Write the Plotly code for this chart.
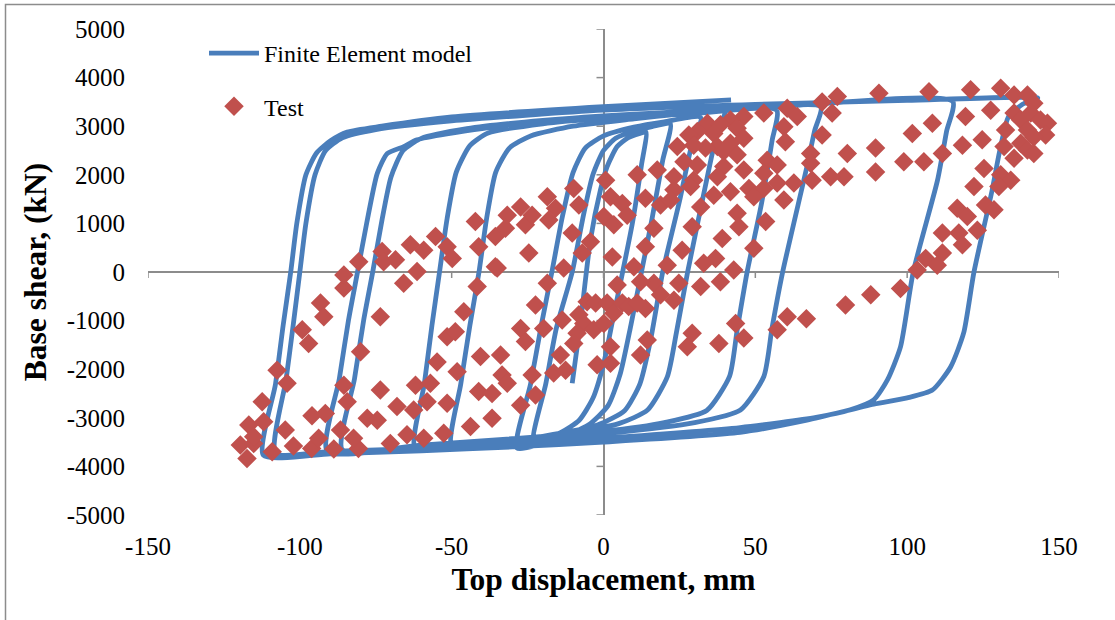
import plotly.graph_objects as go

# ---------------------------------------------------------------------------
# Finite element model: base shear (kN) vs. top displacement (mm),
# listed in analysis order (reloading / unloading branches of each cycle).
# ---------------------------------------------------------------------------
fe_disp = [
    # reload to +14
    -10.3, -7.6, -4.3, -1.0, 1.2, 4.5, 8.0, 12.0, 14.0,
    # unload to -23
    12.5, 9.5, 6.3, 3.0, 0.0, -3.5, -8.0, -14.0, -23.0,
    # reload to +22
    -19.0, -15.5, -10.3, -6.5, -3.5, 0.0, 4.0, 10.0, 16.0, 22.0,
    # unload to -28.5
    19.5, 16.0, 12.5, 9.0, 5.5, 1.5, -5.0, -15.0, -28.5,
    # reload to +32
    -24.0, -20.5, -17.0, -13.5, -10.0, -6.0, 0.0, 10.0, 20.0, 32.0,
    # unload to -50
    29.0, 25.0, 19.5, 15.5, 12.0, 7.0, -2.0, -20.0, -35.0, -50.0,
    # reload to +40
    -47.0, -44.0, -41.0, -38.5, -35.5, -31.0, -24.0, -10.0, 10.0, 25.0, 40.0,
    # unload to -62
    37.5, 35.0, 27.7, 24.0, 21.0, 14.5, 5.0, -15.0, -40.0, -62.0,
    # reload to +57
    -59.0, -56.5, -54.0, -51.5, -48.5, -44.0, -38.0, -20.0, 0.0, 30.0, 57.0,
    # unload to -86
    55.5, 52.0, 47.3, 44.0, 41.5, 34.0, 20.0, 0.0, -30.0, -60.0, -86.0,
    # reload to +71.5
    -82.0, -79.0, -76.0, -73.0, -70.0, -66.0, -60.0, -45.0, -20.0, 10.0, 40.0, 71.5,
    # unload to -91
    69.5, 67.0, 59.0, 55.5, 52.8, 45.1, 30.0, 0.0, -30.0, -60.0, -91.0,
    # reload to +115
    -87.0, -84.0, -81.0, -78.0, -74.5, -71.2, -65.8, -61.4, -40.0, 0.0, 57.0, 115.0,
    # unload to -108
    113.0, 110.0, 102.0, 97.8, 93.5, 89.0, 81.0, 70.0, 45.0, 0.0, -30.0, -60.0,
    -90.0, -108.0,
    # reload to +143
    -104.5, -102.0, -100.0, -98.0, -95.0, -91.5, -86.0, -75.0, -50.0, 0.0, 50.0,
    100.0, 143.0,
    # unload to -112
    138.0, 133.4, 130.5, 128.0, 122.0, 118.6, 114.3, 108.3, 100.0, 89.0, 67.0,
    45.0, 0.0, -30.0, -60.0, -90.0, -112.0,
    # final reload
    -108.0, -105.5, -103.0, -101.0, -98.0, -94.5, -89.9, -84.4, -73.0, -50.0,
    0.0, 42.0,
]
fe_shear = [
    -2290, -1050, 660, 1690, 2170, 2580, 2760, 2850, 2880,
    2200, 1000, 0, -1000, -1900, -2600, -3050, -3300, -3500,
    -2300, -1150, 0, 1200, 2000, 2500, 2750, 2900, 2990, 3050,
    2300, 1100, 0, -1100, -2100, -2750, -3150, -3420, -3620,
    -2300, -1100, 0, 1150, 2050, 2550, 2800, 2980, 3090, 3180,
    2600, 1450, 0, -1400, -2300, -2850, -3150, -3380, -3500, -3600,
    -2300, -1100, 0, 1100, 2050, 2550, 2800, 3000, 3150, 3250, 3330,
    2900, 2200, 0, -1250, -2160, -2840, -3120, -3340, -3520, -3640,
    -2300, -1100, 0, 1100, 2050, 2600, 2860, 3050, 3160, 3260, 3330,
    2700, 1400, 0, -1200, -2150, -2850, -3100, -3280, -3430, -3560, -3660,
    -2200, -1000, 0, 1050, 1950, 2500, 2750, 2950, 3120, 3250, 3330, 3400,
    2900, 2170, 0, -1150, -2150, -2840, -3100, -3330, -3480, -3590, -3690,
    -2200, -1000, 0, 1000, 2030, 2440, 2580, 2720, 2950, 3200, 3400, 3510,
    2900, 1890, 0, -1540, -2220, -2630, -2840, -2990, -3200, -3420, -3540, -3630,
    -3690, -3730,
    -2200, -1000, 0, 1000, 2000, 2500, 2760, 2930, 3110, 3330, 3450,
    3530, 3580,
    3450, 3200, 2500, 1690, 0, -1255, -1955, -2430, -2590, -2720, -3050,
    -3300, -3500, -3600, -3680, -3740, -3770,
    -2300, -1100, 0, 1000, 2000, 2450, 2700, 2880, 3000, 3190,
    3400, 3540,
]

# ---------------------------------------------------------------------------
# Test measurements
# ---------------------------------------------------------------------------
test_disp = [
    # negative side
    -112.4, -116.8, -111.9, -119.6, -115.2, -117.4, -115.2, -109.1, -102.1, -96.1,
    -88.8, -80.7, -70.2, -93.8, -82.3, -86.6, -104.8, -96.0, -91.6, -77.8,
    -74.5, -68.0, -84.4, -85.5, -73.5, -107.5, -104.2, -99.2, -97.1, -93.2,
    -92.1, -80.0, -73.5, -85.5, -85.5, -80.6, -72.9, -72.4, -68.5, -63.6,
    -59.2, -61.4, -55.3, -65.8, -61.9, -57.0, -58.1, -54.8, -62.5, -59.2,
    -64.7, -51.5, -51.5, -52.6, -51.5,
    # central region
    -49.8, -42.2, -41.1, -35.6, -35.6, -31.7, -32.3, -27.3, -25.7, -23.5,
    -24.6, -18.5, -15.8, -18.0, -9.8, -8.1, -10.3, -4.3, -7.0, 0.7,
    2.3, 0.1, 6.2, 7.8, 3.4, 2.9, 10.0, -13.1, -18.5, -41.6,
    -35.0, -46.0, -48.8, -22.4, -27.3, -25.7, -19.7, -13.6, -8.1, -5.4,
    -2.6, 1.2, 3.4, 6.2, 8.3, -6.5, -3.2, 0.1, -8.7, -9.8,
    2.3, -14.2, -40.5, -33.9, -33.4, -31.7, -48.2, -41.1, -36.7, -43.8,
    -36.7, -27.3, -23.5, -22.4, -16.4, -12.5, -2.1, 2.3, 4.5,
    # positive side, moderate drift
    52.8, 60.5, 63.8, 59.4, 59.9, 46.2, 41.8, 34.2, 38.5, 30.9,
    28.1, 36.3, 44.0, 46.2, 41.8, 37.5, 33.6, 29.7, 24.3, 26.5,
    30.9, 39.6, 44.0, 53.9, 57.2, 52.8, 39.6, 46.2, 37.5, 11.1,
    17.7, 23.2, 29.7, 23.2, 28.7, 36.3, 41.8, 47.9, 52.8, 57.2,
    62.7, 59.4, 49.5, 13.8, 18.8, 22.1, 32.0, 29.2, 16.6, 44.0,
    44.6, 53.4, 39.1, 25.9, 13.8, 36.9, 33.0, 21.0, 49.5, 42.9,
    38.5, 32.0, 24.8, 23.2, 16.6, 12.2, 18.8, 13.8, 11.1, 14.4,
    12.2, 29.2, 27.6, 38.0, 43.5, 46.2, 57.2, 60.5, 66.8,
    # positive side, large drift
    72.0, 77.0, 75.3, 90.7, 107.2, 120.9, 130.8, 135.2, 139.6, 141.7,
    127.5, 119.2, 108.3, 101.7, 135.2, 137.4, 140.7, 143.9, 146.2, 132.4,
    139.6, 145.6, 141.7, 137.4, 131.9, 139.6, 141.7, 135.2, 124.7, 118.2,
    111.6, 105.5, 98.9, 89.6, 89.6, 80.3, 79.2, 74.8, 68.2, 68.2,
    68.7, 72.0, 125.3, 122.0, 130.8, 134.1, 130.2, 125.8, 128.6, 116.5,
    119.8, 123.1, 117.0, 111.6, 118.2, 111.6, 106.1, 109.9, 103.3, 97.8,
    88.0, 79.7,
]
test_shear = [
    -2670, -3150, -3080, -3560, -3530, -3840, -3390, -3700, -3580, -3630,
    -3640, -3630, -3530, -3420, -3420, -3250, -3250, -2960, -2910, -3010,
    -3050, -2770, -2670, -2330, -2430, -2020, -2290, -1190, -1470, -640,
    -920, -1640, -920, -330, -60, 210, 420, 210, 250, 560,
    450, 10, 730, -230, -2330, -2290, -2670, -1850, -2840, -3420,
    -3350, -1330, -2700, -3320, 520,
    280, 1040, 520, 110, 730, 1170, 900, 1340, 970, 1170,
    390, 1550, 1310, 1070, 1720, 1380, 800, 620, 390, 1890,
    1550, 1140, 1410, 1170, 970, 310, 110, 80, -230, -300,
    80, -820, -1230, -680, -1160, -1430, -1160, -990, -880, -610,
    -640, -640, -850, -640, -710, -1060, -1190, -1060, -1260, -1470,
    -1540, -1710, -1740, -1710, -2120, -2290, -2050, -2460, -2500, -3180,
    -3010, -2740, -2120, -2530, -2080, -2020, -1910, -1880, -270,
    3270, 3370, 3200, 2990, 2680, 3200, 3130, 3060, 3030, 2890,
    2820, 2850, 2960, 2750, 2650, 2580, 2550, 2610, 2580, 2270,
    2200, 2480, 2410, 2300, 2200, 2030, 2170, 2100, 1960, 2000,
    2100, 1960, 1890, 1690, 1760, 1580, 1650, 1720, 1720, 1830,
    1830, 1480, 1550, 1520, 1380, 1480, 1340, 930, 900, 1210,
    930, 1040, 690, 450, 520, 280, 180, 140, 490, 40,
    -200, -300, -230, -580, -230, -200, -470, -750, -640, -1400,
    -1710, -1260, -1540, -1470, -1060, -1360, -1190, -920, -960,
    3500, 3610, 3270, 3680, 3710, 3750, 3780, 3640, 3640, 3470,
    3330, 3200, 3060, 2850, 3270, 3130, 3270, 3130, 3060, 2920,
    2920, 2820, 2780, 2650, 2580, 2510, 2440, 2340, 2720, 2610,
    2440, 2270, 2270, 2550, 2060, 2440, 1960, 1960, 2440, 2240,
    1890, 2820, 2130, 1760, 2000, 1890, 1760, 1380, 1280, 1310,
    1140, 860, 800, 800, 560, 390, 280, 140, 40, -340,
    -470, -680,
]

x_ticks = [-150, -100, -50, 0, 50, 100, 150]
y_ticks = [-5000, -4000, -3000, -2000, -1000, 0, 1000, 2000, 3000, 4000, 5000]
x_tick_text = [str(v) for v in x_ticks]
y_tick_text = [str(v) for v in y_ticks]

BLUE = "#4A7EBB"
RED = "#C0504D"
AXIS_GREY = "#8C8C8C"
SERIF = "Liberation Serif, Times New Roman, serif"

W, H = 1115, 620
ML, MR, MT, MB = 148, 56, 29, 105
PW, PH = W - ML - MR, H - MT - MB


def px_to_paper_x(px):
    return (px - ML) / PW


def px_to_paper_y(py):
    return (H - MB - py) / PH


fig = go.Figure()
fig.add_trace(go.Scatter(
    x=fe_disp, y=fe_shear, mode="lines", name="Finite Element model",
    legendgroup="fe",
    line=dict(color=BLUE, width=4.8, shape="spline", smoothing=0.6),
))
fig.add_trace(go.Scatter(
    x=test_disp, y=test_shear, mode="markers", name="Test",
    legendgroup="test",
    marker=dict(symbol="diamond", size=15, color=RED, line=dict(width=0)),
))

# Tick marks on the axes crossing at the origin
shapes = []
for v in x_ticks:
    shapes.append(dict(
        type="line", xref="x", yref="y", x0=v, x1=v,
        ysizemode="pixel", yanchor=0, y0=0, y1=-6,
        line=dict(color=AXIS_GREY, width=1.5), layer="below",
    ))
for v in y_ticks:
    shapes.append(dict(
        type="line", xref="x", yref="y", y0=v, y1=v,
        xsizemode="pixel", xanchor=0, x0=-7, x1=0,
        line=dict(color=AXIS_GREY, width=1.5), layer="below",
    ))
# Chart frame
shapes.append(dict(
    type="rect", xref="paper", yref="paper",
    x0=px_to_paper_x(5.5), x1=px_to_paper_x(1135),
    y0=px_to_paper_y(640), y1=px_to_paper_y(4.5),
    line=dict(color=AXIS_GREY, width=1.5), fillcolor="rgba(0,0,0,0)",
    layer="below",
))

tick_font = dict(family=SERIF, size=25, color="black")
title_font = dict(family=SERIF, size=31.5, color="black", weight="bold")

fig.update_layout(
    width=W, height=H,
    margin=dict(l=ML, r=MR, t=MT, b=MB, pad=0),
    paper_bgcolor="white", plot_bgcolor="white",
    shapes=shapes,
    showlegend=True,
    legend=dict(
        x=px_to_paper_x(204), y=px_to_paper_y(31),
        xanchor="left", yanchor="top",
        font=dict(family=SERIF, size=24, color="black"),
        bgcolor="rgba(0,0,0,0)", borderwidth=0,
        traceorder="grouped", tracegroupgap=19, itemwidth=50,
    ),
    xaxis=dict(
        range=[-150, 150], tickmode="array", tickvals=x_ticks, ticktext=x_tick_text,
        ticks="", showline=False, showgrid=False,
        zeroline=True, zerolinecolor=AXIS_GREY, zerolinewidth=1.5,
        tickfont=tick_font, ticklabelstandoff=14,
        title=dict(text="Top displacement, mm", font=title_font, standoff=8),
        fixedrange=True,
    ),
    yaxis=dict(
        range=[-5000, 5000], tickmode="array", tickvals=y_ticks, ticktext=y_tick_text,
        ticks="", showline=False, showgrid=False,
        zeroline=True, zerolinecolor=AXIS_GREY, zerolinewidth=1.5,
        tickfont=tick_font, ticklabelstandoff=22,
        title=dict(text="Base shear, (kN)", font=title_font, standoff=10),
        fixedrange=True,
    ),
)

fig.write_html("out.html")
